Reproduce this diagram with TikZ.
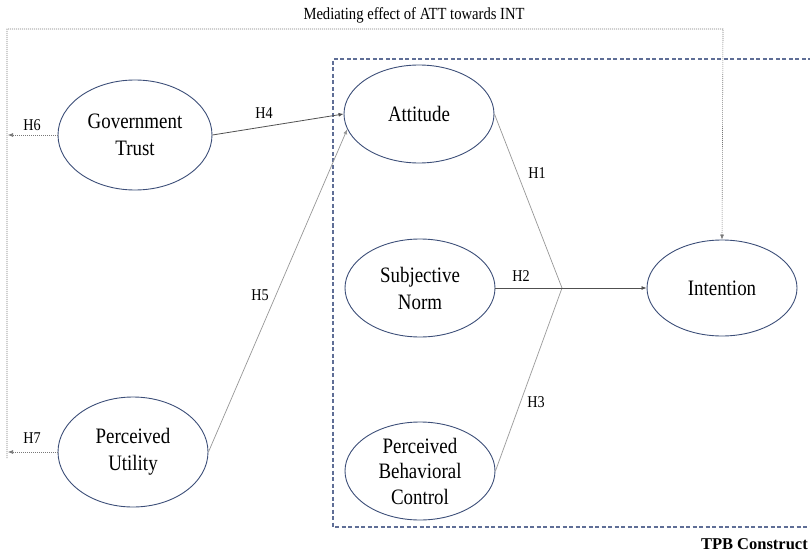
\documentclass[tikz,border=0pt]{standalone}
\usepackage{fontspec}
\setmainfont{Liberation Serif}
\newfontfamily\condf[FakeStretch=0.86]{Liberation Serif}
\usetikzlibrary{shapes.geometric,arrows.meta}
\definecolor{ellcol}{RGB}{60,78,120}
\definecolor{tpbcol}{RGB}{95,110,150}
\definecolor{dotcol}{RGB}{120,120,120}
\definecolor{lightln}{RGB}{150,150,150}
\definecolor{darkln}{RGB}{80,80,80}
\tikzset{
  construct/.style={draw=ellcol, line width=0.9pt, ellipse, inner sep=0pt,
    minimum width=150pt, minimum height=98pt, align=center,
    font=\condf\fontsize{22}{27}\selectfont, text=black},
  hlabel/.style={font=\condf\fontsize{16.5}{19}\selectfont, inner sep=0pt},
  tip/.style={-{Latex[length=5pt,width=4pt]}},
  dotline/.style={draw=dotcol, line width=0.6pt, dash pattern=on 1pt off 1pt},
  tpbline/.style={draw=tpbcol, line width=1.1pt, dash pattern=on 4pt off 2.5pt},
  lightpath/.style={draw=lightln, line width=0.7pt},
  darkpath/.style={draw=darkln, line width=0.8pt}
}
\begin{document}
\begin{tikzpicture}[x=1pt,y=-1pt]
\useasboundingbox (0,0) rectangle (810,556);
% nodes
\node[construct, minimum width=154pt, minimum height=110pt] (gt) at (135,135) {Government\\Trust};
\node[construct, minimum height=110pt] (pu) at (133,452) {Perceived\\Utility};
\node[construct] (att) at (419,114) {Attitude};
\node[construct] (sn) at (420,288) {Subjective\\Norm};
\node[construct, font=\condf\fontsize{22}{25.5}\selectfont] (pbc) at (420,471) {Perceived\\Behavioral\\Control};
\node[construct, minimum height=96pt] (int) at (722,288) {Intention};
% title and box label
\node[font=\condf\fontsize{17}{20}\selectfont, inner sep=0pt] (title) at (414,15) {Mediating effect of ATT towards INT};
\node[font=\bfseries\fontsize{16.5}{19}\selectfont, inner sep=0pt, anchor=east] (tpb) at (808,544) {TPB Construct};
% coordinates
\coordinate (j) at (562,288);
\coordinate (lt) at (7,29);
\coordinate (lb) at (7,458);
\coordinate (rt) at (723,29);
\coordinate (h6e) at (8,135);
\coordinate (h7e) at (8,452);
\coordinate (tpbtr) at (812,59);
\coordinate (tpbtl) at (333,59);
\coordinate (tpbbl) at (333,527);
\coordinate (tpbbr) at (812,527);
% TPB box
\draw[tpbline] (tpbtr) -- (tpbtl) -- (tpbbl) -- (tpbbr);
% outer mediating path
\draw[dotline, tip] (lb) -- (lt) -- (rt) -- (int.north);
\draw[dotline, tip] (gt.west) -- (h6e);
\draw[dotline, tip] (pu.west) -- (h7e);
% paths
\draw[darkpath, tip] (gt.east) -- (att.west);
\draw[lightpath, tip] (pu.east) -- (att.192);
\draw[lightpath] (att.east) -- (j);
\draw[lightpath] (pbc.east) -- (j);
\draw[darkpath] (sn.east) -- (j);
\draw[darkpath, tip] (j) -- (int.west);
% labels
\node[hlabel] (h4) at (264,113) {H4};
\node[hlabel] (h5) at (260,295) {H5};
\node[hlabel] (h1) at (537,173) {H1};
\node[hlabel] (h2) at (521,276) {H2};
\node[hlabel] (h3) at (536,402) {H3};
\node[hlabel] (h6) at (32,125) {H6};
\node[hlabel] (h7) at (32,438) {H7};
\end{tikzpicture}
\end{document}
